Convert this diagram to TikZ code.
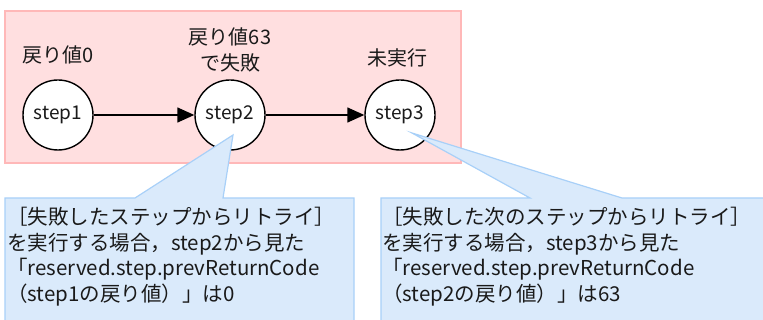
\documentclass[tikz,border=0pt]{standalone}
\usepackage{fontspec}
\setmainfont{Noto Sans CJK JP}
\usetikzlibrary{arrows.meta}
\definecolor{pinkfill}{HTML}{FFDFE0}
\definecolor{pinkline}{HTML}{FFB8B8}
\definecolor{bluefill}{HTML}{DAEAFB}
\definecolor{blueline}{HTML}{A8D0F8}
\definecolor{txt}{HTML}{1A1A1A}
\begin{document}
\begin{tikzpicture}[x=1pt,y=-1pt,
  stepcirc/.style={circle,draw=black,fill=white,line width=1.4pt,minimum size=70pt,inner sep=0pt,font=\fontsize{19}{20}\selectfont,text=txt},
  toplabel/.style={align=center,font=\fontsize{20}{26}\selectfont,text=txt},
  flow/.style={line width=1.4pt,-{Triangle[length=17pt,width=15pt]}},
  callout/.style={fill=bluefill,draw=blueline,line width=1.2pt},
  callouttext/.style={anchor=north west,align=left,inner sep=0pt,font=\fontsize{20.5}{25.5}\selectfont,text=txt}]
\useasboundingbox (0,0) rectangle (763,320);
\begin{scope}
\clip (0,0) rectangle (763,320);
% background panel
\draw[fill=pinkfill,draw=pinkline,line width=1.2pt] (5,11) rectangle (461,163);
% nodes
\node[stepcirc] (s1) at (58,115) {step1};
\node[stepcirc] (s2) at (230,115) {step2};
\node[stepcirc] (s3) at (400,115) {step3};
\node[toplabel] (l1) at (58,55) {戻り値0};
\node[toplabel] (l2) at (230,50) {戻り値63\\で失敗};
\node[toplabel] (l3) at (397,58) {未実行};
\draw[flow] (s1) -- (s2);
\draw[flow] (s2) -- (s3);
% callouts
\coordinate (t1) at (233,135);
\coordinate (t2) at (412,133);
\draw[callout] (5,198) -- (135,198) -- (t1) -- (223,198) -- (354,198) -- (354,330) -- (5,330) -- cycle;
\draw[callout] (381,198) -- (530,198) -- (t2) -- (622,198) -- (770,198) -- (770,330) -- (381,330) -- cycle;
\node[callouttext] (c1) at (7,207) {［失敗したステップからリトライ］\\を実行する場合，step2から見た\\「reserved.step.prevReturnCode\\（step1の戻り値）」は0};
\node[callouttext] (c2) at (382,207) {［失敗した次のステップからリトライ］\\を実行する場合，step3から見た\\「reserved.step.prevReturnCode\\（step2の戻り値）」は63};
\end{scope}
\end{tikzpicture}
\end{document}
